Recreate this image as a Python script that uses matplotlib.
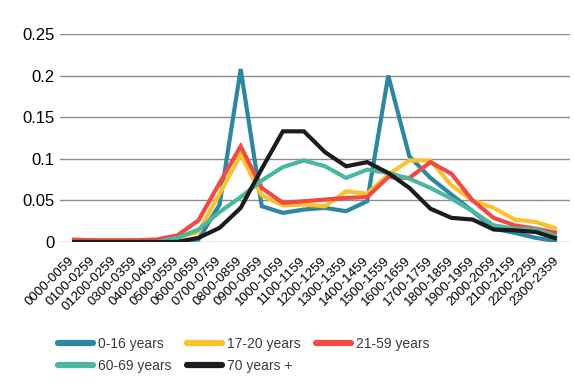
import matplotlib
matplotlib.use("Agg")
import matplotlib.pyplot as plt
from matplotlib.ticker import FixedLocator, FixedFormatter

plt.rcParams["font.family"] = ["Liberation Sans", "DejaVu Sans"]

# Hourly time bands (labels as printed in the source chart)
time_bands = [
    "0000-0059", "0100-0259", "01200-0259", "0300-0359", "0400-0459",
    "0500-0559", "0600-0659", "0700-0759", "0800-0859", "0900-0959",
    "1000-1059", "1100-1159", "1200-1259", "1300-1359", "1400-1459",
    "1500-1559", "1600-1659", "1700-1759", "1800-1859", "1900-1959",
    "2000-2059", "2100-2159", "2200-2259", "2300-2359",
]

age_0_16 = [0.0, 0.0, 0.0, 0.0, 0.0, 0.001, 0.003, 0.045, 0.208, 0.043,
            0.035, 0.039, 0.041, 0.037, 0.049, 0.2, 0.103, 0.077, 0.057, 0.037,
            0.016, 0.011, 0.005, 0.001]
age_17_20 = [0.002, 0.002, 0.002, 0.002, 0.002, 0.005, 0.012, 0.058, 0.105, 0.056,
             0.044, 0.045, 0.043, 0.061, 0.058, 0.081, 0.098, 0.098, 0.068, 0.05,
             0.041, 0.027, 0.024, 0.016]
age_21_59 = [0.003, 0.002, 0.002, 0.002, 0.003, 0.008, 0.026, 0.071, 0.115, 0.065,
             0.047, 0.049, 0.051, 0.053, 0.054, 0.078, 0.077, 0.096, 0.082, 0.05,
             0.029, 0.02, 0.016, 0.011]
age_60_69 = [0.0, 0.0, 0.0, 0.0, 0.0, 0.005, 0.015, 0.036, 0.054, 0.074,
             0.09, 0.098, 0.091, 0.077, 0.087, 0.083, 0.076, 0.065, 0.052, 0.037,
             0.02, 0.016, 0.015, 0.007]
age_70_plus = [0.0, 0.0, 0.0, 0.0, 0.0, 0.0, 0.005, 0.017, 0.041, 0.088,
               0.133, 0.133, 0.108, 0.091, 0.096, 0.083, 0.065, 0.04, 0.029, 0.027,
               0.015, 0.014, 0.012, 0.004]

series = [
    ("0-16 years", age_0_16, "#2E86A0"),
    ("17-20 years", age_17_20, "#FBC22E"),
    ("21-59 years", age_21_59, "#EF4B44"),
    ("60-69 years", age_60_69, "#4BB7A0"),
    ("70 years +", age_70_plus, "#1C1C1C"),
]

y_ticks = [0, 0.05, 0.1, 0.15, 0.2, 0.25]
y_tick_labels = ["0", "0.05", "0.1", "0.15", "0.2", "0.25"]

fig = plt.figure(figsize=(5.74, 3.84), dpi=100)
ax = fig.add_axes([60 / 574, 1 - 242 / 384, 510 / 574, 208 / 384])

x = list(range(len(time_bands)))
lines = []
for label, values, color in series:
    ln, = ax.plot(x, values, color=color, lw=3, label=label,
                  solid_joinstyle="miter", solid_capstyle="butt")
    lines.append(ln)

ax.set_xlim(-0.57, 23.62)
ax.set_ylim(0, 0.25)
ax.yaxis.set_major_locator(FixedLocator(y_ticks))
ax.yaxis.set_major_formatter(FixedFormatter(y_tick_labels))
ax.grid(axis="y", color="#8c8c8c", lw=1)
ax.set_axisbelow(True)
for s in ax.spines.values():
    s.set_visible(False)

ax.set_xticks(x)
ax.set_xticklabels(time_bands, rotation=45, ha="right", va="center",
                   rotation_mode="anchor", fontsize=9.5)
ax.tick_params(axis="x", length=0, pad=12)
ax.tick_params(axis="y", length=0, pad=4, labelsize=12)

# legend fills column by column, so reorder to get rows: 3 on top, 2 below
order = [0, 3, 1, 4, 2]
leg = fig.legend([lines[i] for i in order], [series[i][0] for i in order],
                 ncol=3, loc="upper left",
                 bbox_to_anchor=(58 / 574, 1 - 337 / 384), frameon=False,
                 fontsize=10, handlelength=2.5, handletextpad=0.35,
                 columnspacing=1.15, labelspacing=0.55, borderpad=0,
                 borderaxespad=0)
for h in leg.get_lines():
    h.set_linewidth(4.5)
    h.set_solid_capstyle("round")
for t in leg.get_texts():
    t.set_color("#3a3a3a")

fig.savefig("out.png", dpi=100)
